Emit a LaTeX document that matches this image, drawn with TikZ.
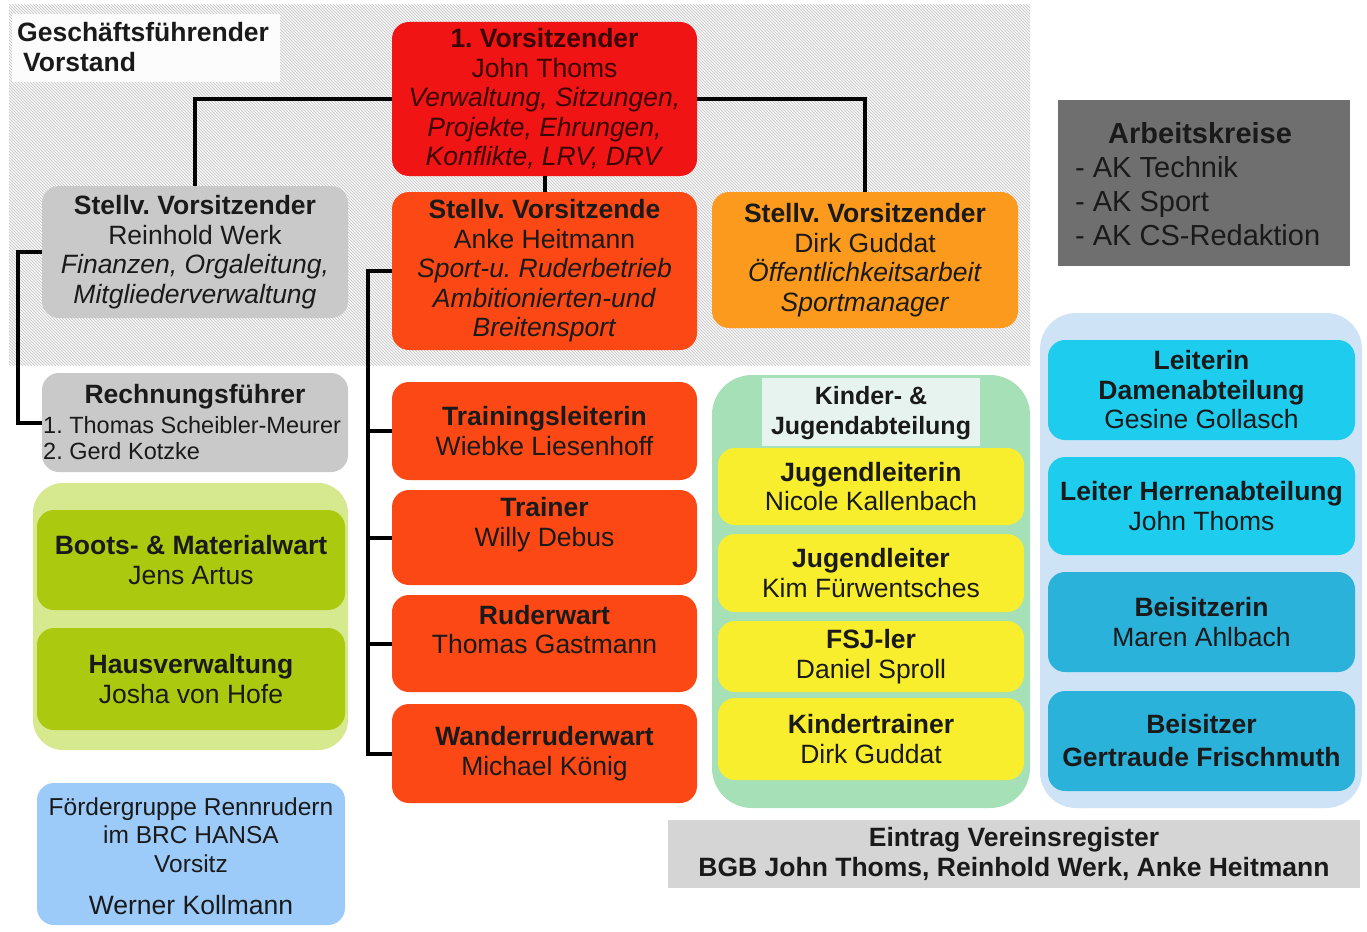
\documentclass[tikz,border=0pt]{standalone}
\usepackage{fontspec}
\setmainfont{Liberation Sans}
\usetikzlibrary{patterns}
\frenchspacing
\definecolor{cRed}{HTML}{F01414}
\definecolor{cOrRed}{HTML}{FC4814}
\definecolor{cOrange}{HTML}{FC9A1E}
\definecolor{cGray}{HTML}{C9C9C9}
\definecolor{cDark}{HTML}{6F6F6F}
\definecolor{cGreenOut}{HTML}{D6E98E}
\definecolor{cGreen}{HTML}{ABC90E}
\definecolor{cLBlue}{HTML}{9DCBF9}
\definecolor{cMint}{HTML}{A6E0B6}
\definecolor{cMintHead}{HTML}{E6F3EF}
\definecolor{cYellow}{HTML}{F8EE2E}
\definecolor{cBlueOut}{HTML}{CFE3F7}
\definecolor{cCyan}{HTML}{1ECCEE}
\definecolor{cCyanDk}{HTML}{2BB2DA}
\definecolor{cReg}{HTML}{D5D5D5}
\definecolor{cTxt}{HTML}{1A1A1A}
\definecolor{cRedTxt}{HTML}{3A0505}
\begin{document}
\frenchspacing
\begin{tikzpicture}[x=1pt,y=-1pt,
  box/.style={rounded corners=17pt, align=center, inner sep=0pt, text=cTxt,
    font=\fontsize{26.5}{29.5}\selectfont},
  sqbox/.style={align=center, inner sep=0pt, text=cTxt},
  txt/.style={align=center, inner sep=0pt, text=cTxt, font=\fontsize{26.5}{29.5}\selectfont},
  conn/.style={line width=4pt, black}]
\useasboundingbox (0,0) rectangle (1367,931);
\fill[white] (0,0) rectangle (1367,931);

% hatched background of the executive board
\fill[gray!8] (9,5) rectangle (1030,365);
\fill[pattern=north west lines, pattern color=gray!45] (9,5) rectangle (1030,365);
\fill[white, opacity=0.9] (12,14) rectangle (280,82);
\node[anchor=north west, inner sep=0pt, text=cTxt, align=left,
  font=\bfseries\fontsize{26.5}{30}\selectfont] (gfv) at (17,22)
  {Geschäftsführender\\\hspace*{6pt}Vorstand};

% group backgrounds
\fill[cGreenOut, rounded corners=30pt] (33,483) rectangle (348,750);
\fill[cMint, rounded corners=40pt] (712,375) rectangle (1030,808);
\fill[cMintHead] (762,378) rectangle (980,446);
\fill[cBlueOut, rounded corners=36pt] (1040,313) rectangle (1362,808);

% executive board
\node[box, fill=cRed, text=cRedTxt, minimum width=305pt, minimum height=154pt] (v1) at (544.5,99)
  {\textbf{1. Vorsitzender}\\John Thoms\\\textit{Verwaltung, Sitzungen,}\\\textit{Projekte, Ehrungen,}\\\textit{Konflikte, LRV, DRV}};
\node[box, fill=cOrRed, minimum width=305pt, minimum height=158pt] (sv2) at (544.5,271)
  {\textbf{Stellv. Vorsitzende}\\Anke Heitmann\\\textit{Sport-u. Ruderbetrieb}\\\textit{Ambitionierten-und}\\\textit{Breitensport}};
\node[box, fill=cOrange, minimum width=306pt, minimum height=136pt] (sv3) at (865,260)
  {\textbf{Stellv. Vorsitzender}\\Dirk Guddat\\\textit{Öffentlichkeitsarbeit}\\\textit{Sportmanager}};
\node[box, fill=cGray, minimum width=306pt, minimum height=132pt] (sv1) at (195,252)
  {\textbf{Stellv. Vorsitzender}\\Reinhold Werk\\\textit{Finanzen, Orgaleitung,}\\\textit{Mitgliederverwaltung}};

% Arbeitskreise
\node[sqbox, fill=cDark, minimum width=292pt, minimum height=166pt] (ak) at (1204,183) {};
\node[anchor=west, inner sep=0pt, align=left, text=cTxt, font=\fontsize{29}{34}\selectfont] (akt) at (1075,184)
  {\hspace*{33pt}\textbf{Arbeitskreise}\\- AK Technik\\- AK Sport\\- AK CS-Redaktion};

% Rechnungsfuehrer
\node[box, fill=cGray, minimum width=306pt, minimum height=99pt] (rf) at (195,422.5) {};
\node[txt, font=\bfseries\fontsize{26.5}{29.5}\selectfont] (rft) at (195,397) {Rechnungsführer};
\node[anchor=west, inner sep=0pt, align=left, text=cTxt, font=\fontsize{23.5}{26}\selectfont] (rfn) at (43,438)
  {1. Thomas Scheibler-Meurer\\2. Gerd Kotzke};

% green group
\node[box, fill=cGreen, minimum width=308pt, minimum height=100pt] (bm) at (191,560)
  {\textbf{Boots- \& Materialwart}\\Jens Artus};
\node[box, fill=cGreen, minimum width=308pt, minimum height=102pt] (hv) at (191,679)
  {\textbf{Hausverwaltung}\\Josha von Hofe};

% Foerdergruppe
\node[box, fill=cLBlue, minimum width=308pt, minimum height=142pt] (fg) at (191,854) {};
\node[txt, font=\fontsize{24.5}{28.5}\selectfont] (fgt) at (191,835)
  {Fördergruppe Rennrudern\\im BRC HANSA\\Vorsitz};
\node[txt, font=\fontsize{26.5}{30}\selectfont] (fgn) at (191,905) {Werner Kollmann};

% sports operations column
\node[box, fill=cOrRed, minimum width=305pt, minimum height=98pt] (tl) at (544.5,431)
  {\textbf{Trainingsleiterin}\\Wiebke Liesenhoff};
\node[box, fill=cOrRed, minimum width=305pt, minimum height=95pt] (tr) at (544.5,537.5) {};
\path (tr.center) ++(0,-13) node[txt] (trt) {\textbf{Trainer}\\Willy Debus};
\node[box, fill=cOrRed, minimum width=305pt, minimum height=97pt] (rw) at (544.5,643.5) {};
\path (rw.center) ++(0,-14) node[txt] (rwt) {\textbf{Ruderwart}\\Thomas Gastmann};
\node[box, fill=cOrRed, minimum width=305pt, minimum height=99pt] (ww) at (544.5,753.5)
  {\textbf{Wanderruderwart}\\Michael König};

% youth department
\node[txt, font=\bfseries\fontsize{25}{30}\selectfont] (kj) at (871,413) {Kinder- \&\\Jugendabteilung};
\node[box, fill=cYellow, minimum width=306pt, minimum height=77pt] (jl1) at (871,486.5)
  {\textbf{Jugendleiterin}\\Nicole Kallenbach};
\node[box, fill=cYellow, minimum width=306pt, minimum height=78pt] (jl2) at (871,573)
  {\textbf{Jugendleiter}\\Kim Fürwentsches};
\node[box, fill=cYellow, minimum width=306pt, minimum height=71pt] (fsj) at (871,656.5)
  {\textbf{FSJ-ler}\\Daniel Sproll};
\node[box, fill=cYellow, minimum width=306pt, minimum height=82pt] (kt) at (871,739)
  {\textbf{Kindertrainer}\\Dirk Guddat};

% departments right
\node[box, fill=cCyan, minimum width=307pt, minimum height=100pt] (ld) at (1201.5,390)
  {\textbf{Leiterin}\\\textbf{Damenabteilung}\\Gesine Gollasch};
\node[box, fill=cCyan, minimum width=307pt, minimum height=98pt] (lh) at (1201.5,506)
  {\textbf{Leiter Herrenabteilung}\\John Thoms};
\node[box, fill=cCyanDk, minimum width=307pt, minimum height=100pt] (bz1) at (1201.5,622)
  {\textbf{Beisitzerin}\\Maren Ahlbach};
\node[box, fill=cCyanDk, minimum width=307pt, minimum height=100pt, font=\fontsize{26.5}{33}\selectfont] (bz2) at (1201.5,741)
  {\textbf{Beisitzer}\\\textbf{Gertraude Frischmuth}};

% register entry
\node[sqbox, fill=cReg, minimum width=692pt, minimum height=68pt,
  font=\bfseries\fontsize{26.5}{30}\selectfont] (reg) at (1014,854)
  {Eintrag Vereinsregister\\BGB John Thoms, Reinhold Werk, Anke Heitmann};

% connectors
\draw[conn] (v1.west) -| (sv1.north);
\draw[conn] (v1.east) -| (sv3.north);
\draw[conn] (v1.south) -- (sv2.north);
\coordinate (lspine) at (18,252);
\draw[conn] (sv1.west) -- (lspine) |- (rf.west);
\coordinate (spine) at (368,271);
\draw[conn] (sv2.west) -- (spine) |- (ww.west);
\draw[conn] (spine |- tl.west) -- (tl.west);
\draw[conn] (spine |- tr.west) -- (tr.west);
\draw[conn] (spine |- rw.west) -- (rw.west);
\end{tikzpicture}
\end{document}
